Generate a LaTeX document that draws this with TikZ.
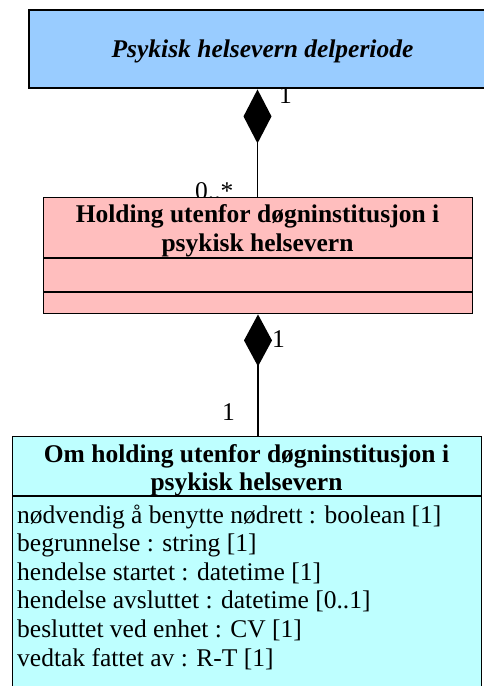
\documentclass[tikz,border=0pt]{standalone}
\usepackage{fontspec}
\setmainfont{Liberation Serif}
\usetikzlibrary{arrows.meta}
\definecolor{topblue}{RGB}{153,204,255}
\definecolor{pinkfill}{RGB}{255,190,190}
\definecolor{cyanfill}{RGB}{190,255,255}
\tikzset{
  umlbox/.style={draw=black, line width=1.4pt, rectangle, anchor=north west, inner sep=0pt},
  txt/.style={inner sep=0pt, font=\fontsize{25.5}{28.6}\selectfont},
  hdr/.style={txt, anchor=base, font=\fontsize{25.5}{28.6}\selectfont\bfseries},
  attr/.style={txt, anchor=base west},
  mult/.style={txt, anchor=base west},
  compose/.style={line width=1.4pt, -{Diamond[length=#1, width=28pt, line width=0pt]}},
}
\begin{document}
\begin{tikzpicture}[x=1pt, y=-1pt]
\useasboundingbox (0,0) rectangle (484,686);
\clip (0,0) rectangle (484,686);
% multiplicity labels drawn first (partly covered by boxes)
\node[mult] (m1) at (279,103) {1};
\node[mult] (m2) at (195,199) {0..*};
\node[mult] (m3) at (272,347) {1};
\node[mult] (m4) at (222,420) {1};
% top class
\node[umlbox, fill=topblue, line width=2.4pt, minimum width=469pt, minimum height=78pt] (top) at (28,9) {};
\node[txt, anchor=base, font=\fontsize{25.5}{28.6}\selectfont\bfseries\itshape] (title) at (262.5,57) {Psykisk helsevern delperiode};
% middle class
\node[umlbox, fill=pinkfill, minimum width=429pt, minimum height=116pt] (pink) at (43,197) {};
\draw[line width=1.4pt] ([yshift=-61pt]pink.north west) -- ([yshift=-61pt]pink.north east);
\draw[line width=1.4pt] ([yshift=-95pt]pink.north west) -- ([yshift=-95pt]pink.north east);
\node[hdr] (ph1) at (257.5,222) {Holding utenfor døgninstitusjon i};
\node[hdr] (ph2) at (257.5,251) {psykisk helsevern};
% bottom class
\node[umlbox, fill=cyanfill, minimum width=469pt, minimum height=300pt] (cyan) at (12,436) {};
\draw[line width=1.4pt] ([yshift=-60pt]cyan.north west) -- ([yshift=-60pt]cyan.north east);
\node[hdr] (ch1) at (246.5,462) {Om holding utenfor døgninstitusjon i};
\node[hdr] (ch2) at (246.5,490) {psykisk helsevern};
\node[attr] (a1) at (17,523) {nødvendig å benytte nødrett : boolean [1]};
\node[attr] (a2) at (17,551.6) {begrunnelse : string [1]};
\node[attr] (a3) at (17,580.2) {hendelse startet : datetime [1]};
\node[attr] (a4) at (17,608.8) {hendelse avsluttet : datetime [0..1]};
\node[attr] (a5) at (17,637.4) {besluttet ved enhet : CV [1]};
\node[attr] (a6) at (17,666) {vedtak fattet av : R-T [1]};
% composition connectors
\draw[compose=54pt] (pink.north -| 257.5,0) -- (top.south -| 257.5,0);
\draw[compose=52pt] (cyan.north -| 258,0) -- (pink.south -| 258,0);
\end{tikzpicture}
\end{document}
